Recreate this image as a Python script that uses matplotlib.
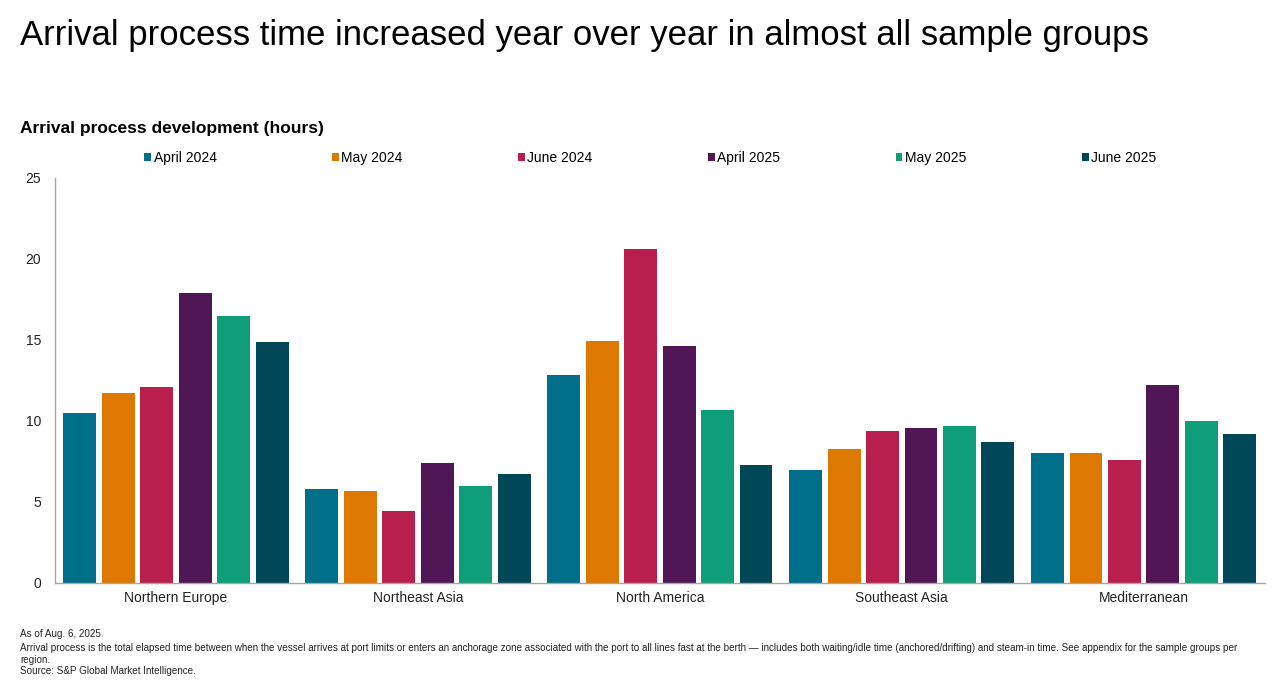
import numpy as np
import matplotlib.pyplot as plt
from matplotlib.patches import Patch

plt.rcParams['font.family'] = ['Liberation Sans', 'DejaVu Sans']

regions = ["Northern Europe", "Northeast Asia", "North America",
           "Southeast Asia", "Mediterranean"]
series = ["April 2024", "May 2024", "June 2024", "April 2025", "May 2025", "June 2025"]
colors = ["#006F8A", "#DD7800", "#B91F4E", "#511655", "#0E9E7A", "#004758"]

apr24 = [10.5, 5.8, 12.85, 7.0, 8.0]
may24 = [11.7, 5.7, 14.95, 8.25, 8.0]
jun24 = [12.1, 4.45, 20.6, 9.35, 7.6]
apr25 = [17.9, 7.4, 14.65, 9.55, 12.25]
may25 = [16.5, 6.0, 10.65, 9.7, 10.0]
jun25 = [14.85, 6.7, 7.3, 8.7, 9.2]
values = [apr24, may24, jun24, apr25, may25, jun25]

fig = plt.figure(figsize=(12.8, 6.87), dpi=100)
ax = fig.add_axes([0.043, 0.1514, 0.945, 0.5896])

x = np.arange(len(regions))
pitch = 0.159
width = 0.136
for i, (vals, c) in enumerate(zip(values, colors)):
    ax.bar(x + (i - 2.5) * pitch, vals, width, color=c, label=series[i])

ax.set_xlim(-0.5, len(regions) - 0.5)
ax.set_ylim(0, 25)
ax.set_yticks([0, 5, 10, 15, 20, 25])
ax.set_xticks(x)
ax.set_xticklabels(regions)
ax.tick_params(axis='both', length=0, labelsize=10, colors='#222222', pad=6)
ax.tick_params(axis='y', pad=10)
for s in ['top', 'right']:
    ax.spines[s].set_visible(False)
for s in ['left', 'bottom']:
    ax.spines[s].set_color('#a6a6a6')
    ax.spines[s].set_linewidth(1)

handles = [Patch(facecolor=c, label=l) for c, l in zip(colors, series)]
fig.legend(handles=handles, loc='lower left', ncol=6, mode='expand',
           bbox_to_anchor=(0.108, 0.752, 0.80, 0.05), frameon=False,
           fontsize=10, handlelength=0.5, handleheight=0.5, handletextpad=0.2,
           borderaxespad=0)

fig.text(0.0156, 0.948, "Arrival process time increased year over year in almost all sample groups",
         fontsize=25, va='center', ha='left', color='black')
fig.text(0.0156, 0.813, "Arrival process development (hours)", fontsize=12.5,
         fontweight='bold', va='center', ha='left', color='black')

# footnotes
fig.text(0.0156, 0.077, "As of Aug. 6, 2025.", fontsize=7.15, va='center',
         ha='left', color='#222222')
foot = ("Arrival process is the total elapsed time between when the vessel arrives at port limits or enters an anchorage zone associated with the port to all lines fast at the berth \u2014 includes both waiting/idle time (anchored/drifting) and steam-in time. See appendix for the sample groups per\n"
        "region.\n"
        "Source: S&P Global Market Intelligence.")
fig.text(0.0156, 0.064, foot, fontsize=7.15, va='top', ha='left', color='#222222',
         linespacing=1.2)

fig.savefig("out.png", dpi=100)
